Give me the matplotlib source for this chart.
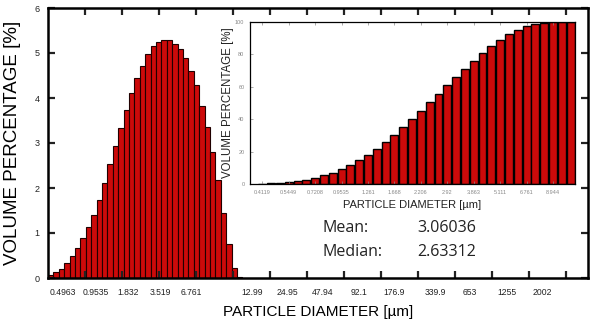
import numpy as np
import matplotlib.pyplot as plt

plt.rcParams['font.family'] = ['Liberation Sans', 'DejaVu Sans']

# volume distribution per size class [%]
volume_pct = [0.06, 0.13, 0.20, 0.33, 0.49, 0.66, 0.88, 1.14, 1.41, 1.74,
              2.12, 2.53, 2.94, 3.34, 3.74, 4.11, 4.45, 4.72, 4.97, 5.15,
              5.24, 5.30, 5.28, 5.19, 5.08, 4.88, 4.61, 4.28, 3.83, 3.36,
              2.79, 2.17, 1.45, 0.75, 0.23, 0.03]
diam_labels = ['0.4963', '0.9535', '1.832', '3.519', '6.761', '12.99', '24.95',
               '47.94', '92.1', '176.9', '339.9', '653', '1255', '2002']

# cumulative volume for the inset [%]
cum_pct = [0.1, 0.4, 0.6, 1.05, 1.7, 2.5, 3.6, 5.3, 6.7, 9.1,
           11.6, 14.7, 17.9, 21.7, 25.8, 30.4, 35.1, 40.3, 45.2, 50.6,
           55.6, 61.2, 66.1, 71.1, 76.2, 81.0, 85.3, 89.0, 92.4, 95.2,
           97.5, 99.0, 99.6, 100.0, 100.0, 100.0]
cum_labels = ['0.4119', '0.5449', '0.7208', '0.9535', '1.261', '1.668',
              '2.206', '2.92', '3.863', '5.111', '6.761', '8.944']

W, H = 590, 327
fig = plt.figure(figsize=(W / 100, H / 100), dpi=100)

def px_box(x0, y0, x1, y1):
    return [x0 / W, 1 - y1 / H, (x1 - x0) / W, (y1 - y0) / H]

red = '#cc0a0a'

# main histogram
ax = fig.add_axes(px_box(48, 8, 588, 278))
n = len(volume_pct)
ax.bar(np.arange(n) + 0.5, volume_pct, width=1.0, color=red,
       edgecolor='#200000', linewidth=0.8)
ax.set_xlim(0, 100)
ax.set_ylim(0, 6)
upx = 540 / 100.0
ax.set_xticks([(85 + 37 * k - 48) / upx for k in range(14)])
ax.set_xticklabels([])
lab_px = [63, 95.5, 128, 160, 191, 252, 287, 323, 359, 394, 435, 470, 507, 542]
ax.set_xticks([(p - 48) / upx for p in lab_px], minor=True)
ax.set_xticklabels(diam_labels, minor=True)
ax.set_yticks(range(7))
ax.tick_params(which='major', direction='in', length=5, width=1.6,
               top=True, right=True, labelsize=6.5, colors='#222', pad=6)
ax.tick_params(which='minor', length=0, labelsize=6.2, colors='#222', pad=7)
for s in ax.spines.values():
    s.set_linewidth(1.8)
ax.set_ylabel('VOLUME PERCENTAGE [%]', fontsize=13.5, labelpad=10)
ax.set_xlabel('PARTICLE DIAMETER [µm]', fontsize=11, labelpad=6)

def ydat(py):
    return 6 * (278 - py) / 270.0

stats = [('Mean:', '3.06036', 228), ('Median:', '2.63312', 252)]
for name, val, py in stats:
    ax.text((323 - 48) / upx, ydat(py), name, fontsize=11.5,
            family='Open Sans', va='center', color='#222')
    ax.text((417 - 48) / upx, ydat(py), val, fontsize=11.5,
            family='Open Sans', va='center', color='#222')

# cumulative inset
ins = fig.add_axes(px_box(250, 22, 575, 184))
m = len(cum_pct)
ins.bar(np.arange(m), cum_pct, width=0.9, color=red,
        edgecolor='black', linewidth=1.0)
ins.set_xlim(-1.4, m - 0.5)
ins.set_ylim(0, 100)
ins.set_yticks(range(0, 101, 20))
ins.set_xticks(np.arange(0, m, 3))
ins.set_xticklabels(cum_labels)
ins.tick_params(direction='in', length=2, width=0.5, labelsize=4,
                colors='#888', pad=4, top=True)
for s in ins.spines.values():
    s.set_linewidth(0.9)
ins.set_ylabel('VOLUME PERCENTAGE [%]', fontsize=8.3, labelpad=1, color='#222')
ins.set_xlabel('PARTICLE DIAMETER [µm]', fontsize=8, labelpad=4,
               color='#222')

fig.savefig('out.png', dpi=100)
